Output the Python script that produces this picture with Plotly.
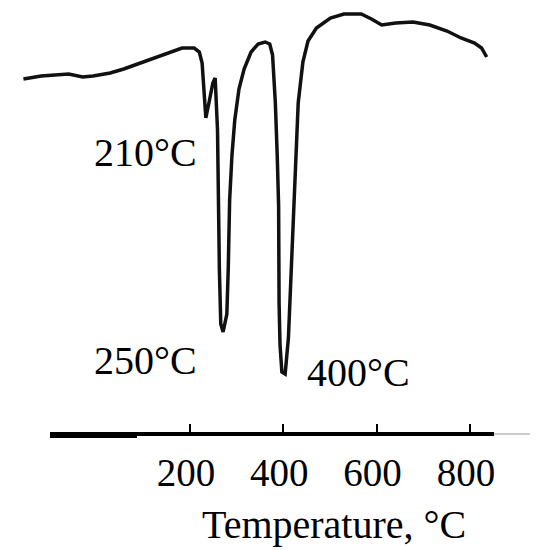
import plotly.graph_objects as go

# DTA curve (temperature in °C, signal in arbitrary units)
temperature = [-157, -119, -60, -30, -8, 29, 58, 88, 132, 183, 209, 220, 226, 230, 234,
               241, 249, 254, 256, 259, 263, 266, 271, 279, 282, 285, 290, 296, 305, 316,
               331, 346, 361, 371, 377, 383, 387, 390, 391, 393, 397, 404, 411, 416, 421,
               423, 427, 432, 442, 453, 471, 501, 530, 567, 589, 611, 641, 678, 714, 751,
               781, 810, 825, 836]
dta_signal = [353, 356, 358, 355, 356, 359, 363, 368, 375, 384, 384, 380, 369, 342, 314,
              330, 349, 354, 335, 302, 163, 108, 100, 118, 163, 232, 277, 312, 343, 363,
              380, 388, 390, 388, 377, 329, 277, 226, 129, 87, 60, 58, 94, 146, 215,
              226, 277, 329, 370, 391, 404, 414, 418, 418, 413, 407, 409, 410, 407, 401,
              394, 389, 384, 375]

tick_values = [200, 400, 600, 800]
peak_labels = ["210°C", "250°C", "400°C"]
peak_label_x = [219, 219, 446]
peak_label_y = [280, 72, 60]
peak_label_anchor = ["right", "right", "left"]

FONT = "Liberation Serif, Times New Roman, serif"
W, H = 532, 542  # page body adds an 8 px margin

fig = go.Figure()
fig.add_trace(go.Scatter(x=temperature, y=dta_signal, mode="lines",
                         line=dict(color="#111111", width=3.5), showlegend=False,
                         hoverinfo="skip"))
# invisible trace so the temperature axis gets drawn
fig.add_trace(go.Scatter(x=tick_values, y=[0] * len(tick_values), xaxis="x2", mode="markers",
                         marker=dict(opacity=0), showlegend=False, hoverinfo="skip"))

for text, x, y, anchor in zip(peak_labels, peak_label_x, peak_label_y, peak_label_anchor):
    fig.add_annotation(x=x, y=y, xref="x", yref="y", text=text, showarrow=False,
                       xanchor=anchor, yanchor="middle",
                       font=dict(family=FONT, size=40, color="black"))

fig.add_annotation(x=325.5 / W, y=-0.217, xref="paper", yref="paper",
                   text="Temperature, °C", showarrow=False, xanchor="center", yanchor="middle",
                   font=dict(family=FONT, size=40, color="black"))

# thin continuation of the axis line and the extra thick stub on the left
fig.add_shape(type="line", xref="paper", yref="paper", x0=486 / W, x1=522 / W,
              y0=-0.0047, y1=-0.0047, line=dict(color="#999999", width=1))
fig.add_shape(type="line", xref="paper", yref="paper", x0=42 / W, x1=129 / W,
              y0=-0.0106, y1=-0.0106, line=dict(color="black", width=3))

fig.update_layout(
    width=W, height=H,
    margin=dict(l=0, r=0, t=0, b=118, pad=0),
    paper_bgcolor="white", plot_bgcolor="rgba(0,0,0,0)",
    font=dict(family=FONT, color="black"),
    hovermode=False,
    xaxis=dict(range=[-190.1, 950.3], visible=False, fixedrange=True),
    xaxis2=dict(domain=[42 / W, 486 / W], range=[-100.1, 851.7], anchor="y",
                showline=True, linewidth=4, linecolor="black", showgrid=False, zeroline=False,
                ticks="inside", ticklen=8, tickwidth=2, tickcolor="black",
                tickvals=tick_values, tickfont=dict(family=FONT, size=39, color="black"),
                ticklabelstandoff=3, ticklabelshift=-4, fixedrange=True),
    yaxis=dict(range=[0, 424], visible=False, fixedrange=True),
)

fig.write_html("out.html")
